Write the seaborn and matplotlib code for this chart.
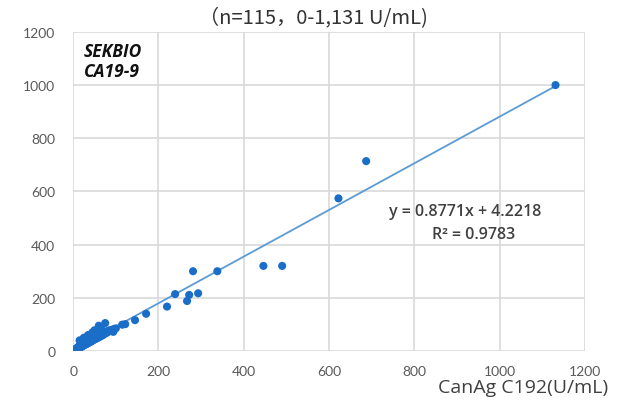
import matplotlib
matplotlib.use("Agg")
import matplotlib.pyplot as plt
import seaborn as sns
import pandas as pd

# CanAg C192 (x) vs SEKBIO CA19-9 (y), U/mL
high_x = [1131, 687, 622, 490, 446, 338, 281, 293, 272, 267, 239, 220, 171, 145,
          122, 115, 75, 60, 94, 68]
high_y = [1000, 714, 574, 320, 320, 300, 300, 217, 211, 188, 214, 167, 140, 116,
          101, 99, 105, 95, 72, 64]

low_x = [0.5, 1, 1.5, 2, 2.5, 3, 3.5, 4, 5, 5.5, 6, 7, 7.5, 8, 9, 9.5, 10, 11, 12,
         12.5, 13, 14, 15, 15.5, 16, 17, 18, 18.5, 19, 20, 21, 22, 22.5, 23, 24, 25,
         26, 27, 28, 29, 30, 31, 32, 33, 34, 35, 36, 37, 38, 39, 40, 41, 42, 43, 44,
         45, 46, 47, 48, 49, 50, 51, 52, 53, 54, 55, 56, 57, 58, 59, 60, 62, 63, 64,
         65, 66, 68, 70, 72, 74, 76, 78, 80, 82, 85, 88, 92, 96, 15, 25, 35, 45, 50,
         65, 100]
low_y = [0.4, 2, 0.8, 3, 1.5, 4, 2, 5, 3, 6, 4, 8, 5, 10, 6, 12, 8, 14, 9,
         16, 11, 18, 12, 20, 13, 22, 15, 24, 16, 27, 18, 30, 19, 25, 21, 33,
         22, 36, 24, 30, 26, 40, 27, 34, 29, 45, 31, 38, 33, 48, 34, 42, 36, 55, 38,
         46, 40, 60, 42, 50, 44, 65, 45, 52, 47, 70, 49, 56, 50, 75, 52, 58, 80, 55,
         62, 57, 66, 60, 70, 65, 72, 68, 75, 72, 78, 76, 80, 83, 40, 50, 60, 70, 78,
         90, 85]

slope = 0.8771
intercept = 4.2218
r2 = 0.9783

df = pd.DataFrame({"x": high_x + low_x, "y": high_y + low_y})
fit = pd.DataFrame({"x": [df.x.min(), df.x.max()]})
fit["y"] = slope * fit.x + intercept

sns.set_style("white")
plt.rcParams["font.family"] = ["Open Sans", "DejaVu Sans"]

fig, ax = plt.subplots(figsize=(6.31, 4.06), dpi=100)
fig.subplots_adjust(left=0.116, right=0.927, bottom=0.133, top=0.919)

sns.lineplot(data=fit, x="x", y="y", ax=ax, color="#5b9bd5", linewidth=1.3, zorder=2)
sns.scatterplot(data=df, x="x", y="y", ax=ax, color="#1a6ec8", s=34,
                edgecolor="none", zorder=3)

ax.set_xlim(0, 1200)
ax.set_ylim(0, 1200)
ax.set_xticks(range(0, 1201, 200))
ax.set_yticks(range(0, 1201, 200))
ax.grid(True, color="#d9d9d9", linewidth=1.2)
ax.set_axisbelow(True)
for s in ax.spines.values():
    s.set_visible(False)
ax.tick_params(length=0, labelsize=10, labelcolor="#595959")
for lab in ax.get_xticklabels() + ax.get_yticklabels():
    lab.set_family(["Lato", "DejaVu Sans"])
ax.tick_params(axis="y", pad=13)
ax.tick_params(axis="x", pad=10)
ax.set_xlabel("")
ax.set_ylabel("")

fig.text(0.497, 0.955, "（n=115，0-1,131 U/mL)", ha="center", va="center",
         fontsize=14.5, color="#333333", fontweight="medium",
         family=["Noto Sans CJK SC", "DejaVu Sans"])
fig.text(0.963, 0.044, "CanAg C192(U/mL)", ha="right", va="center",
         fontsize=14, color="#404040")
fig.text(0.133, 0.895, "SEKBIO\nCA19-9", ha="left", va="top", fontsize=12.5,
         fontweight="bold", style="italic", color="#111111", linespacing=1.15)
fig.text(0.7375, 0.478, f"y = {slope}x + {intercept}", ha="center", va="center",
         fontsize=11.5, color="#404040", fontweight="semibold")
fig.text(0.751, 0.421, f"R² = {r2}", ha="center", va="center",
         fontsize=11.5, color="#404040", fontweight="semibold")

fig.savefig("out.png", dpi=100)
